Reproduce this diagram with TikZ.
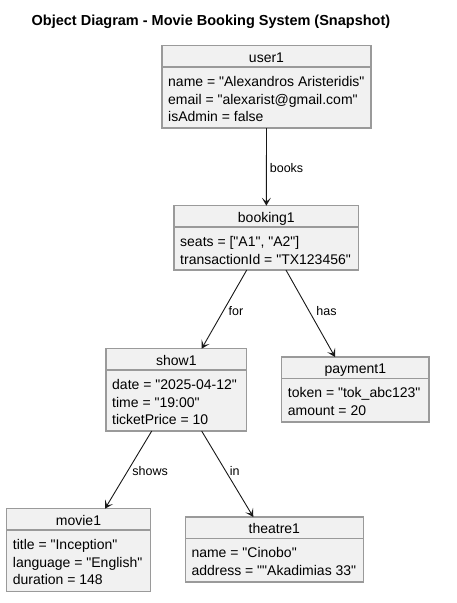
\documentclass[tikz,border=0pt]{standalone}
\usepackage{fontspec}
\setmainfont{Liberation Sans}[Ligatures=TeXOff]
\usetikzlibrary{arrows.meta}
\definecolor{objfill}{HTML}{F1F1F1}
\definecolor{objdraw}{HTML}{9A9A9A}
\definecolor{linkcol}{HTML}{181818}

\begin{document}
\begin{tikzpicture}[x=1pt, y=-1pt,
    obj/.style={draw=objdraw, fill=objfill, line width=1.1pt, inner sep=0pt, outer sep=0pt, anchor=north west},
    sep/.style={draw=objdraw, line width=1.1pt},
    objname/.style={anchor=base, inner sep=0pt, font=\fontsize{14}{17.6}\selectfont},
    attrs/.style={anchor=north west, inner sep=0pt, align=left, font=\fontsize{14}{17.6}\selectfont},
    link/.style={draw=linkcol, line width=0.9pt, -{Stealth[length=8pt,width=9pt,inset=4pt]}},
    lbl/.style={anchor=west, inner sep=3pt, font=\fontsize{12.5}{15}\selectfont}]
            \useasboundingbox (0,0) rectangle (456,603);
            \node[anchor=base west, inner sep=0pt, font=\bfseries\fontsize{14.5}{17}\selectfont] (title) at (31.5,25) {Object Diagram - Movie Booking System (Snapshot)};
            % user1
            \node[obj, minimum width=209pt, minimum height=82.3pt] (user1) at (162,45.7) {};
            \draw[sep] ([yshift=-21.3pt]user1.north west) -- ([yshift=-21.3pt]user1.north east);
            \node[objname] (user1Name) at ([yshift=-16.8pt]user1.north) {user1};
            \node[attrs] (user1Attrs) at ([xshift=6pt,yshift=-30.5pt]user1.north west) {name = "Alexandros Aristeridis"\\email = "alexarist@gmail.com"\\isAdmin = false};
            % booking1
            \node[obj, minimum width=184.7pt, minimum height=64.3pt] (booking1) at (174,205.7) {};
            \draw[sep] ([yshift=-21.3pt]booking1.north west) -- ([yshift=-21.3pt]booking1.north east);
            \node[objname] (booking1Name) at ([yshift=-16.8pt]booking1.north) {booking1};
            \node[attrs] (booking1Attrs) at ([xshift=6pt,yshift=-30.5pt]booking1.north west) {seats = ["A1", "A2"]\\transactionId = "TX123456"};
            % show1
            \node[obj, minimum width=140.7pt, minimum height=82.3pt] (show1) at (106,348.7) {};
            \draw[sep] ([yshift=-21.3pt]show1.north west) -- ([yshift=-21.3pt]show1.north east);
            \node[objname] (show1Name) at ([yshift=-16.8pt]show1.north) {show1};
            \node[attrs] (show1Attrs) at ([xshift=6pt,yshift=-30.5pt]show1.north west) {date = "2025-04-12"\\time = "19:00"\\ticketPrice = 10};
            % payment1
            \node[obj, minimum width=147.3pt, minimum height=65pt] (payment1) at (281.7,357) {};
            \draw[sep] ([yshift=-21.3pt]payment1.north west) -- ([yshift=-21.3pt]payment1.north east);
            \node[objname] (payment1Name) at ([yshift=-16.8pt]payment1.north) {payment1};
            \node[attrs] (payment1Attrs) at ([xshift=6pt,yshift=-30.5pt]payment1.north west) {token = "tok\_abc123"\\amount = 20};
            % movie1
            \node[obj, minimum width=143.6pt, minimum height=82.6pt] (movie1) at (6.7,508.7) {};
            \draw[sep] ([yshift=-21.3pt]movie1.north west) -- ([yshift=-21.3pt]movie1.north east);
            \node[objname] (movie1Name) at ([yshift=-16.8pt]movie1.north) {movie1};
            \node[attrs] (movie1Attrs) at ([xshift=6pt,yshift=-30.5pt]movie1.north west) {title = "Inception"\\language = "English"\\duration = 148};
            % theatre1
            \node[obj, minimum width=178pt, minimum height=65pt] (theatre1) at (185.3,517) {};
            \draw[sep] ([yshift=-21.3pt]theatre1.north west) -- ([yshift=-21.3pt]theatre1.north east);
            \node[objname] (theatre1Name) at ([yshift=-16.8pt]theatre1.north) {theatre1};
            \node[attrs] (theatre1Attrs) at ([xshift=6pt,yshift=-30.5pt]theatre1.north west) {name = "Cinobo"\\address = ""Akadimias 33"};
            % links
            \draw[link] (user1.south) -- node[lbl, pos=.52] (booksLbl) {books} (booking1.north);
            \draw[link] ([xshift=-19.6pt]booking1.south) -- node[lbl, pos=.52, xshift=2pt] (forLbl) {for} ([xshift=25.3pt]show1.north);
            \draw[link] ([xshift=19.6pt]booking1.south) -- node[lbl, pos=.47, xshift=4pt] (hasLbl) {has} ([xshift=-20.3pt]payment1.north);
            \draw[link] ([xshift=-24.6pt]show1.south) -- node[lbl, pos=.51, xshift=1pt] (showsLbl) {shows} ([xshift=26.5pt]movie1.north);
            \draw[link] ([xshift=25.3pt]show1.south) -- node[lbl, pos=.46, xshift=1pt] (inLbl) {in} ([xshift=-21pt]theatre1.north);
        \end{tikzpicture}
\end{document}
